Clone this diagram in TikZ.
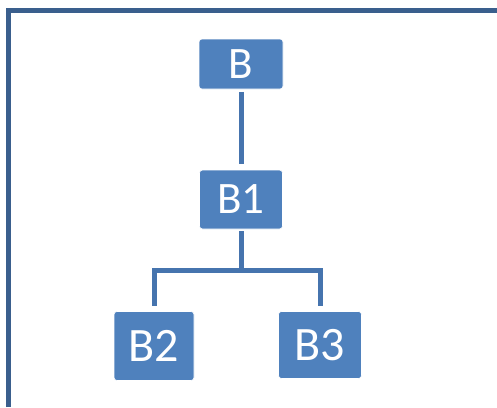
\documentclass[tikz,border=0pt]{standalone}
\usepackage{fontspec}
\setmainfont{Carlito}
\definecolor{boxblue}{HTML}{4F81BD}
\definecolor{lineblue}{HTML}{4674AE}
\definecolor{frameblue}{HTML}{3A5F8D}
\begin{document}
\begin{tikzpicture}[x=1pt, y=-1pt,
  blk/.style={fill=boxblue, draw=white, line width=.6pt, rounded corners=3pt, inner sep=0pt, text=white, font=\fontsize{45}{50}\selectfont},
  big/.style={font=\fontsize{48}{52}\selectfont},
  link/.style={draw=lineblue, line width=5pt}]
\useasboundingbox (0,0) rectangle (497,407);
\draw[frameblue, line width=5pt, line join=miter](8.5,407)--(8.5,10.5)--(497,10.5);
\node[blk, minimum width=84pt, minimum height=50pt] (b) at (241,64) {B};
\node[blk, minimum width=83pt, minimum height=59pt] (b1) at (241,199.5) {B1};
\node[blk, big, minimum width=80pt, minimum height=69pt] (b2) at (154,346) {B2};
\node[blk, big, minimum width=83pt, minimum height=67pt] (b3) at (320,345) {B3};
\coordinate (fork) at (241,270);
\draw[link, shorten <=2.5pt, shorten >=6pt](b.south)--(b1.north);
\draw[link, shorten <=2pt](b1.south)--(fork);
\draw[link, line join=miter, shorten <=5.5pt, shorten >=5pt](b2.north)|-(fork)-|(b3.north);
\end{tikzpicture}
\end{document}
